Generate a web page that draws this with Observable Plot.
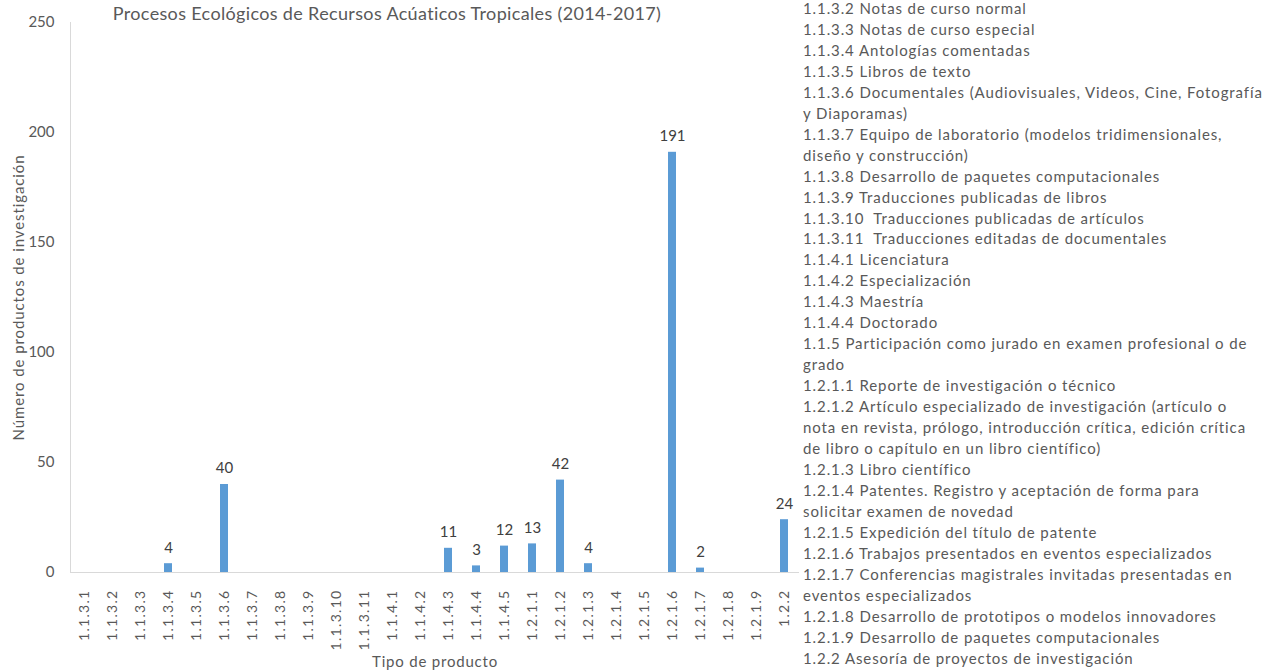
<!DOCTYPE html>
<html><head><meta charset="utf-8">
<script src="https://cdn.jsdelivr.net/npm/d3@7"></script>
<script src="https://cdn.jsdelivr.net/npm/@observablehq/plot@0.6"></script>
<style>
body{margin:0;background:#fff;font-family:Lato,sans-serif;color:#595959;}
#wrap{position:relative;width:1273px;height:670px;overflow:hidden;background:#fff;}
#chart{position:absolute;left:0;top:0;}
#title{position:absolute;left:0;width:774px;text-align:center;top:2px;font-size:18px;letter-spacing:0.35px;color:#595959;white-space:nowrap;}
#legend{position:absolute;left:803px;top:-2px;font-size:15px;letter-spacing:0.9px;line-height:20.95px;white-space:pre;color:#595959;}
#chart g[aria-label="x-axis tick label"] text{letter-spacing:1.3px;}
#chart g[aria-label="x-axis label"] text{font-size:15px;letter-spacing:0.8px;}
#chart g[aria-label="y-axis label"] text{font-size:15px;letter-spacing:0.9px;}
</style></head><body>
<div id="wrap"><div id="chart"></div><div id="title"></div><div id="legend"></div></div>
<script>
const titleText = "Procesos Ecológicos de Recursos Acúaticos Tropicales (2014-2017)";
const categories = ["1.1.3.1","1.1.3.2","1.1.3.3","1.1.3.4","1.1.3.5","1.1.3.6","1.1.3.7","1.1.3.8","1.1.3.9","1.1.3.10","1.1.3.11","1.1.4.1","1.1.4.2","1.1.4.3","1.1.4.4","1.1.4.5","1.2.1.1","1.2.1.2","1.2.1.3","1.2.1.4","1.2.1.5","1.2.1.6","1.2.1.7","1.2.1.8","1.2.1.9","1.2.2"];
const values = [null,null,null,4,null,40,null,null,null,null,null,null,null,11,3,12,13,42,4,null,null,191,2,null,null,24];
const yTicks = [0,50,100,150,200,250];
const yLabel = "Número de productos de investigación";
const xLabel = "Tipo de producto";
const legendItems = [
"1.1.3.2 Notas de curso normal",
"1.1.3.3 Notas de curso especial",
"1.1.3.4 Antologías comentadas",
"1.1.3.5 Libros de texto",
"1.1.3.6 Documentales (Audiovisuales, Videos, Cine, Fotografía\ny Diaporamas)",
"1.1.3.7 Equipo de laboratorio (modelos tridimensionales,\ndiseño y construcción)",
"1.1.3.8 Desarrollo de paquetes computacionales",
"1.1.3.9 Traducciones publicadas de libros",
"1.1.3.10  Traducciones publicadas de artículos",
"1.1.3.11  Traducciones editadas de documentales",
"1.1.4.1 Licenciatura",
"1.1.4.2 Especialización",
"1.1.4.3 Maestría",
"1.1.4.4 Doctorado",
"1.1.5 Participación como jurado en examen profesional o de\ngrado",
"1.2.1.1 Reporte de investigación o técnico",
"1.2.1.2 Artículo especializado de investigación (artículo o\nnota en revista, prólogo, introducción crítica, edición crítica\nde libro o capítulo en un libro científico)",
"1.2.1.3 Libro científico",
"1.2.1.4 Patentes. Registro y aceptación de forma para\nsolicitar examen de novedad",
"1.2.1.5 Expedición del título de patente",
"1.2.1.6 Trabajos presentados en eventos especializados",
"1.2.1.7 Conferencias magistrales invitadas presentadas en\neventos especializados",
"1.2.1.8 Desarrollo de prototipos o modelos innovadores",
"1.2.1.9 Desarrollo de paquetes computacionales",
"1.2.2 Asesoría de proyectos de investigación"
];

const data = categories.map((c,i)=>({cat:c, value:values[i]}));
const shown = data.filter(d=>d.value!=null);
const chart = Plot.plot({
  width: 800, height: 670,
  marginLeft: 70, marginRight: 1, marginTop: 22, marginBottom: 98,
  style: {fontFamily: "Lato, sans-serif", fontSize: "14px", color: "#595959", background: "#fff"},
  x: {domain: categories, paddingInner: 0.7, paddingOuter: 0.35},
  y: {domain: [0,250]},
  marks: [
    Plot.frame({anchor: "left", stroke: "#d9d9d9"}),
    Plot.ruleY([0], {stroke: "#d9d9d9", strokeWidth: 1}),
    Plot.axisY({ticks: yTicks, tickSize: 0, tickPadding: 16, fill: "#595959", fontSize: 15,
      label: yLabel, labelAnchor: "center", labelArrow: "none", labelOffset: 57}),
    Plot.axisX({tickRotate: -90, tickSize: 0, tickPadding: 17, fill: "#595959", fontSize: 14,
      label: xLabel, labelAnchor: "center", labelArrow: "none", labelOffset: 94}),
    Plot.barY(shown, {x: "cat", y: "value", fill: "#5b9bd5"}),
    Plot.text(shown, {x: "cat", y: "value", text: d=>String(d.value), dy: -16, fontSize: 15, fill: "#404040"})
  ]
});
document.getElementById("chart").appendChild(chart);
document.getElementById("title").textContent = titleText;
document.getElementById("legend").textContent = legendItems.join("\n");
</script>
</body></html>
